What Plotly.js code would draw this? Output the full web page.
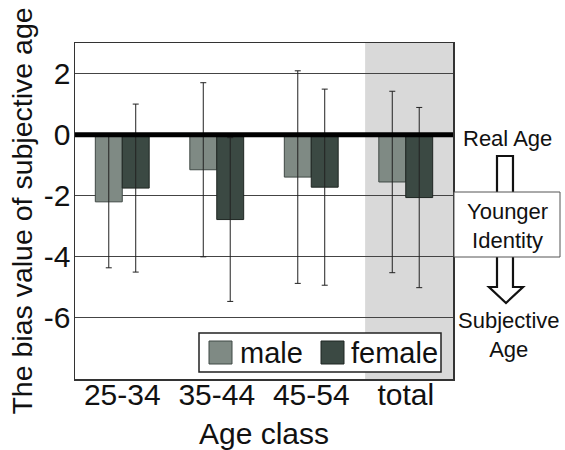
<!DOCTYPE html>
<html>
<head>
<meta charset="utf-8">
<script src="https://cdn.plot.ly/plotly-3.0.1.min.js"></script>
<style>html,body{margin:0;padding:0;background:#fff;}#chart{width:565px;height:450px;}</style>
</head>
<body>
<div id="chart"></div>
<script>
// ---- data ----
const categories = ['25-34', '35-44', '45-54', 'total'];
const maleMeans = [-2.2, -1.15, -1.39, -1.55];
const maleSD = [2.16, 2.85, 3.48, 2.97];
const femaleMeans = [-1.75, -2.78, -1.72, -2.06];
const femaleSD = [2.75, 2.68, 3.21, 2.95];
const seriesNames = ['male', 'female'];
const yTickValues = [-6, -4, -2, 0, 2];
const yTickLabels = ['-6', '-4', '-2', '0', '2'];

// ---- layout helpers (plot area in pixels) ----
const L = 75, R = 453, T = 43, B = 379;
const W = R - L, H = B - T;
const px = x => (x - L) / W;
const py = y => (B - y) / H;
function pathP(pts) {
  return pts.map((p, i) => (i ? 'L' : 'M') + px(p[0]).toFixed(4) + ',' + py(p[1]).toFixed(4)).join(' ');
}

const FONT = '"Liberation Sans", Arial, sans-serif';
const maleColor = '#7f8a84';
const femaleColor = '#3b4943';

const traces = [
  {
    type: 'bar', name: seriesNames[0], x: categories, y: maleMeans,
    marker: {color: maleColor, line: {color: '#3f4844', width: 1}},
    error_y: {type: 'data', array: maleSD, visible: true, color: '#222', thickness: 1, width: 3},
    showlegend: false
  },
  {
    type: 'bar', name: seriesNames[1], x: categories, y: femaleMeans,
    marker: {color: femaleColor, line: {color: '#1f2622', width: 1}},
    error_y: {type: 'data', array: femaleSD, visible: true, color: '#222', thickness: 1, width: 3},
    showlegend: false
  }
];

const shapes = [
  // shaded "total" column
  {type: 'rect', xref: 'x', yref: 'paper', x0: 2.57, x1: 3.5, y0: 0, y1: 1,
   fillcolor: '#d9d9d9', line: {width: 0}, layer: 'below'},
  // real-age reference line
  {type: 'line', xref: 'paper', yref: 'y', x0: 0, x1: 1, y0: 0, y1: 0,
   line: {color: '#000', width: 5}, layer: 'above'},
  // legend box
  {type: 'rect', xref: 'paper', yref: 'paper', x0: px(199), x1: px(441), y0: py(372), y1: py(333),
   fillcolor: '#fff', line: {color: '#222', width: 1.5}, layer: 'above'},
  {type: 'rect', xref: 'paper', yref: 'paper', x0: px(209), x1: px(232), y0: py(364), y1: py(341),
   fillcolor: maleColor, line: {color: '#3f4844', width: 1}, layer: 'above'},
  {type: 'rect', xref: 'paper', yref: 'paper', x0: px(321), x1: px(344), y0: py(364), y1: py(341),
   fillcolor: femaleColor, line: {color: '#1f2622', width: 1}, layer: 'above'},
  // right-side hollow arrow (upper part)
  {type: 'path', xref: 'paper', yref: 'paper',
   path: pathP([[497, 192], [497, 156], [513, 156], [513, 192]]),
   line: {color: '#111', width: 2.2}},
  // right-side hollow arrow (lower part)
  {type: 'path', xref: 'paper', yref: 'paper',
   path: pathP([[497, 257], [497, 287], [489, 287], [506, 303], [523, 287], [513, 287], [513, 257]]),
   line: {color: '#111', width: 2.2}},
  // "Younger Identity" box
  {type: 'rect', xref: 'paper', yref: 'paper', x0: px(454), x1: px(560), y0: py(257), y1: py(192),
   fillcolor: '#fff', line: {color: '#555', width: 1}}
];

const annotations = [
  {text: seriesNames[0], xref: 'paper', yref: 'paper', x: px(238), y: py(353), xanchor: 'left', yanchor: 'middle',
   showarrow: false, font: {family: FONT, size: 29, color: '#111'}},
  {text: seriesNames[1], xref: 'paper', yref: 'paper', x: px(349), y: py(353), xanchor: 'left', yanchor: 'middle',
   showarrow: false, font: {family: FONT, size: 29, color: '#111'}},
  {text: 'Real Age', xref: 'paper', yref: 'paper', x: px(507), y: py(138), xanchor: 'center', yanchor: 'middle',
   showarrow: false, font: {family: FONT, size: 22, color: '#111'}},
  {text: 'Younger<br>Identity', xref: 'paper', yref: 'paper', x: px(507), y: py(226), xanchor: 'center', yanchor: 'middle',
   showarrow: false, font: {family: FONT, size: 22, color: '#111'}},
  {text: 'Subjective<br>Age', xref: 'paper', yref: 'paper', x: px(509), y: py(335), xanchor: 'center', yanchor: 'middle',
   showarrow: false, font: {family: FONT, size: 22, color: '#111'}}
];

const layout = {
  width: 565, height: 450,
  margin: {l: L, r: 565 - R, t: T, b: 450 - B, pad: 0},
  paper_bgcolor: '#fff', plot_bgcolor: 'rgba(0,0,0,0)',
  font: {family: FONT, color: '#111'},
  barmode: 'group', bargap: 0.43, bargroupgap: 0,
  showlegend: false,
  xaxis: {
    type: 'category', range: [-0.5, 3.5], showgrid: false, zeroline: false,
    showline: true, mirror: true, linecolor: '#333', linewidth: 1.5,
    ticks: '', tickfont: {family: FONT, size: 30, color: '#111'}, ticklabelstandoff: -12,
    title: {text: 'Age class', font: {family: FONT, size: 30, color: '#111'}, standoff: 13},
    automargin: false
  },
  yaxis: {
    range: [-8, 3], tickmode: 'array', tickvals: yTickValues, ticktext: yTickLabels,
    showgrid: true, gridcolor: '#444', gridwidth: 1, zeroline: false,
    showline: true, mirror: true, linecolor: '#333', linewidth: 1.5,
    ticks: '', tickfont: {family: FONT, size: 30, color: '#111'}, ticklabelstandoff: -3,
    title: {text: 'The bias value of subjective age', font: {family: FONT, size: 28.5, color: '#111'}, standoff: 3},
    automargin: false
  },
  shapes: shapes,
  annotations: annotations
};

Plotly.newPlot('chart', traces, layout, {staticPlot: true, displayModeBar: false});
</script>
</body>
</html>
